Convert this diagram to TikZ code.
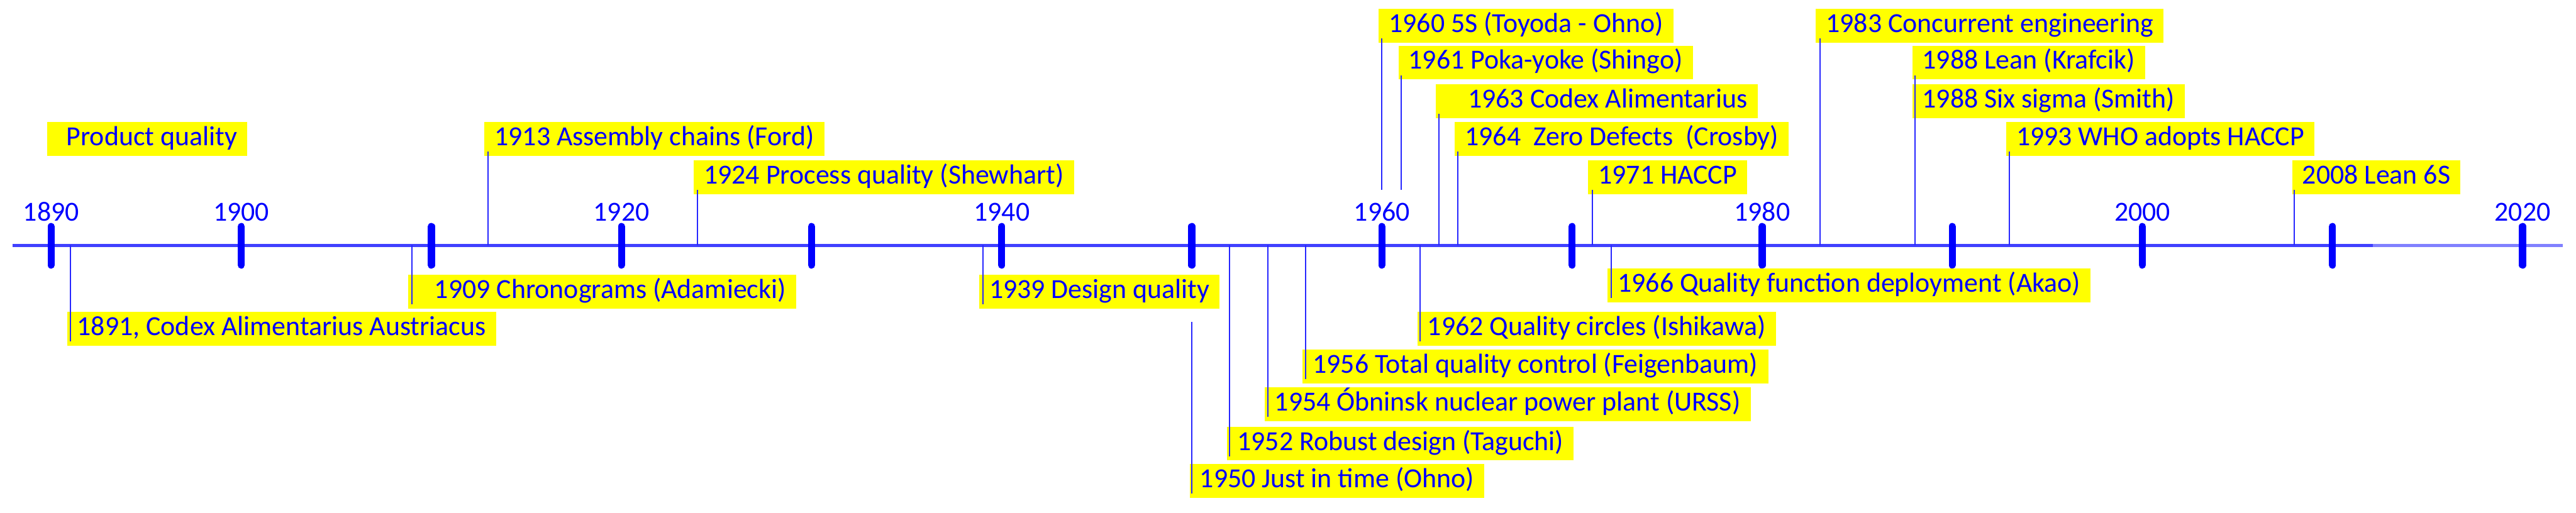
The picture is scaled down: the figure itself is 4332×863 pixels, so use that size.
\documentclass[tikz,border=0pt]{standalone}
\usepackage{fontspec}
\setmainfont{Carlito}
\usepackage{tkz-euclide}
\definecolor{BarClr}{rgb}{0.25,0.25,1}
\definecolor{BarEndClr}{rgb}{0.5,0.5,1}
\definecolor{TickClr}{rgb}{0,0,1}
\definecolor{LinkClr}{rgb}{0.15,0.15,1}
\definecolor{TextClr}{rgb}{0,0,1}
\definecolor{BoxClr}{rgb}{1,1,0}

\tikzset{
  bar/.style={line width=.45mm,color=BarClr},
  tick/.style={line width=1.2mm,color=TickClr,line cap=round},
  link/.style={line width=.22mm,color=LinkClr},
  year/.style={text=TextClr,anchor=base,inner sep=0pt,font=\fontsize{13.2pt}{15.8pt}\selectfont},
  evt/.style={fill=BoxClr,text=TextClr,anchor=north west,inner xsep=1.7mm,inner ysep=0pt,
    minimum height=5.7mm,font=\fontsize{13.2pt}{15.8pt}\selectfont,execute at begin node=\strut}
}

\begin{document}
\begin{tikzpicture}[x=.1mm,y=-.1mm]
\useasboundingbox (0,0) rectangle (4332,863);

% time axis
\draw[bar] (21,413) -- (3990,413);
\draw[bar,color=BarEndClr] (3990,413) -- (4310,413);

\foreach \k in {0,...,13}
  \draw[tick] ({86+319.7*\k},381) -- ({86+319.7*\k},446);

\foreach \yr in {1890,1900,1920,1940,1960,1980,2000,2020}
  \node[year] (y\yr) at ({86+31.97*(\yr-1890)},372) {\yr};

% feet of the connectors
\tkzDefPoints{118/413/a1891,693/413/a1909,821/413/a1913,1173/413/a1924,1653/413/a1939,
  2004/542/a1950,2068/413/a1952,2132/413/a1954,2196/413/a1956,2324/319/a1960,
  2356/319/a1961,2388/413/a1962,2420/413/a1963,2452/413/a1964,2710/413/a1966,
  2678/413/a1971,3061/413/a1983,3220/413/a1988,3379/413/a1993,3858/413/a2008}

% labels above the axis
\node[evt] (pq) at (79,205) {\hspace{1.5mm}Product quality\hspace{1.7mm}};
\node[evt] (e1913) at (814,205) {1913 Assembly chains (Ford)};
\node[evt] (e1924) at (1166,269) {1924 Process quality (Shewhart)};
\node[evt] (e1960) at (2318,14) {1960 5S (Toyoda - Ohno)};
\node[evt] (e1961) at (2351,76) {1961 Poka-yoke (Shingo)};
\node[evt] (e1963) at (2414,141) {\hspace{3.7mm}1963 Codex Alimentarius\hspace{4.1mm}};
\node[evt] (e1964) at (2446,205) {1964\ \ Zero Defects\ \ (Crosby)};
\node[evt] (e1971) at (2670,269) {1971 HACCP\hspace{1mm}};
\node[evt] (e1983) at (3053,14) {1983 Concurrent engineering};
\node[evt] (e1988) at (3215,76) {1988 Lean (Krafcik)};
\node[evt] (e1988s) at (3215,141) {1988 Six sigma (Smith)};
\node[evt] (e1993) at (3373,205) {1993 WHO adopts HACCP};
\node[evt] (e2008) at (3854,269) {2008 Lean 6S};

% labels below the axis
\node[evt] (e1891) at (112,524) {1891, Codex Alimentarius Austriacus};
\node[evt] (e1909) at (686,462) {\hspace{2.7mm}1909 Chronograms (Adamiecki)\hspace{3mm}};
\node[evt] (e1939) at (1646,462) {1939 Design quality};
\node[evt] (e1950) at (2000,780) {1950 Just in time (Ohno)};
\node[evt] (e1952) at (2063,717) {1952 Robust design (Taguchi)};
\node[evt] (e1954) at (2126,651) {1954 Óbninsk nuclear power plant (URSS)};
\node[evt] (e1956) at (2190,587) {1956 Total quality control (Feigenbaum)};
\node[evt] (e1962) at (2383,524) {1962 Quality circles (Ishikawa)};
\node[evt] (e1966) at (2703,451) {1966 Quality function deployment (Akao)};

\foreach \e in {1891,1909,1913,1924,1939,1950,1952,1954,1956,1960,1961,1962,
  1963,1964,1966,1971,1983,1988,1993,2008}
  \draw[link] (a\e) -- ([yshift=.8mm]a\e |- e\e.south);

\end{tikzpicture}
\end{document}
